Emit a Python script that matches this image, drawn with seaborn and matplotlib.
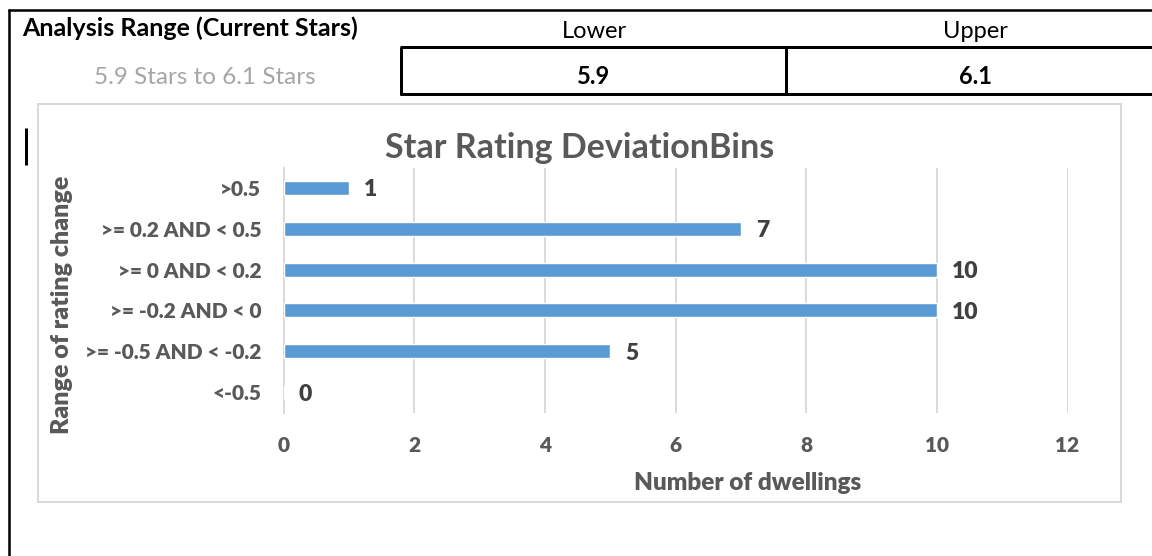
import matplotlib
matplotlib.use("Agg")
import matplotlib.pyplot as plt
from matplotlib.lines import Line2D
from matplotlib.patches import Rectangle
import seaborn as sns
import pandas as pd

# Data
bins = [">0.5", ">= 0.2 AND < 0.5", ">= 0 AND < 0.2",
        ">= -0.2 AND < 0", ">= -0.5 AND < -0.2", "<-0.5"]
dwellings = [1, 7, 10, 10, 5, 0]
x_ticks = [0, 2, 4, 6, 8, 10, 12]
range_lower = 5.9
range_upper = 6.1

W, H = 1152, 556
DPI = 100

sns.set_theme(style="white")
plt.rcParams["font.family"] = ["Lato", "DejaVu Sans"]

fig = plt.figure(figsize=(W / DPI, H / DPI), dpi=DPI)
fig.patch.set_facecolor("white")


def fx(x):
    return x / W


def fy(y):
    return 1 - y / H


def hline(x0, x1, y, lw, color="black"):
    fig.add_artist(Line2D([fx(x0), fx(x1)], [fy(y), fy(y)], color=color,
                          lw=lw * 72 / DPI, transform=fig.transFigure,
                          solid_capstyle="butt"))


def vline(x, y0, y1, lw, color="black"):
    fig.add_artist(Line2D([fx(x), fx(x)], [fy(y0), fy(y1)], color=color,
                          lw=lw * 72 / DPI, transform=fig.transFigure,
                          solid_capstyle="butt"))


# Sheet frame and range table
hline(8, W, 10, 2.5)
vline(9, 9, H, 2.5)
hline(400, W, 47, 3)
hline(400, W, 94, 3)
vline(401, 47, 95, 3)
vline(786, 47, 95, 3)

fig.text(fx(22), fy(28), "Analysis Range (Current Stars)", ha="left", va="center",
         fontsize=18, fontweight="bold", color="black")
fig.text(fx(205), fy(78), f"{range_lower} Stars to {range_upper} Stars", ha="center",
         va="center", fontsize=17.5, color="#A6A6A6")
fig.text(fx(594), fy(32), "Lower", ha="center", va="center", fontsize=17, color="black")
fig.text(fx(975), fy(32), "Upper", ha="center", va="center", fontsize=17, color="black")
fig.text(fx(594), fy(77), f"{range_lower}", ha="center", va="center", fontsize=17,
         fontweight="bold", color="black")
fig.text(fx(975), fy(77), f"{range_upper}", ha="center", va="center", fontsize=17,
         fontweight="bold", color="black")

# Cursor mark
vline(26, 128, 165, 3)

# Chart area border
fig.add_artist(Rectangle((fx(38), fy(502)), fx(1121) - fx(38), fy(104) - fy(502),
                         transform=fig.transFigure, fill=False,
                         edgecolor="#D9D9D9", lw=2 * 72 / DPI))

# Plot area
ax_left, ax_right, ax_top, ax_bottom = 283.5, 1067.5, 167.5, 412.5
ax = fig.add_axes([fx(ax_left), fy(ax_bottom), fx(ax_right) - fx(ax_left),
                   fy(ax_top) - fy(ax_bottom)])

df = pd.DataFrame({"bin": bins, "count": dwellings})
sns.barplot(data=df, x="count", y="bin", order=bins, orient="h",
            color="#5B9BD5", saturation=1, width=0.34, ax=ax, zorder=3)

ax.set_xlim(0, 12)
ax.set_xticks(x_ticks)
ax.set_xticklabels([str(t) for t in x_ticks])
ax.xaxis.grid(True, color="#D9D9D9", lw=1.4)
ax.set_axisbelow(True)
for side in ["top", "right", "bottom"]:
    ax.spines[side].set_visible(False)
ax.spines["left"].set_color("#D9D9D9")
ax.spines["left"].set_linewidth(1.4)
ax.tick_params(axis="both", length=0, labelcolor="#595959", labelsize=15)
ax.tick_params(axis="x", pad=17)
ax.tick_params(axis="y", pad=16)
for lab in ax.get_xticklabels() + ax.get_yticklabels():
    lab.set_fontweight("heavy")
ax.set_xlabel("")
ax.set_ylabel("")

for cont in ax.containers:
    labels = ax.bar_label(cont, labels=[str(v) for v in dwellings], padding=11,
                          fontsize=16.5, fontweight="heavy", color="#404040")
    for t in labels:
        t.set_verticalalignment("center_baseline")

fig.text(fx(580), fy(148), "Star Rating DeviationBins", ha="center", va="center",
         fontsize=24.5, fontweight="bold", color="#595959")
fig.text(fx(748), fy(483), "Number of dwellings", ha="center", va="center",
         fontsize=17.5, fontweight="heavy", color="#595959")
fig.text(fx(62), fy(305), "Range of rating change", ha="center", va="center",
         rotation=90, fontsize=18, fontweight="heavy", color="#595959")

fig.savefig("out.png", dpi=DPI, facecolor="white")
